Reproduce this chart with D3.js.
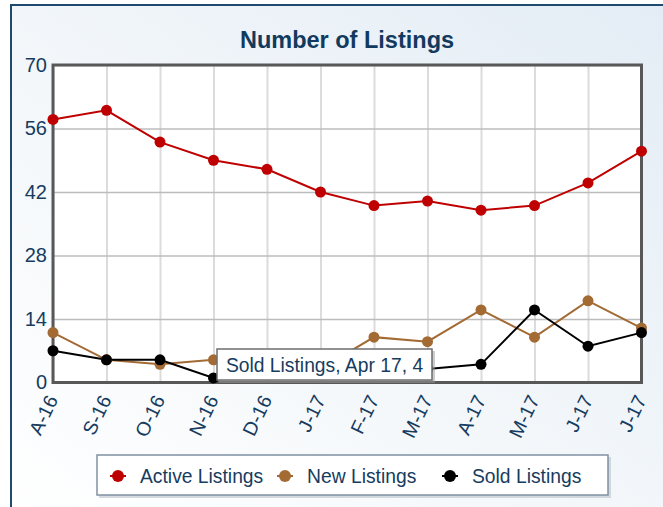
<!DOCTYPE html>
<html><head><meta charset="utf-8">
<script src="https://cdn.jsdelivr.net/npm/d3@7"></script>
<style>
html,body{margin:0;padding:0;background:#fff;}
svg{display:block;font-family:"Liberation Sans",Arial,sans-serif;}
</style></head>
<body><svg id="c" width="663" height="507"></svg>
<script>
const categories = ["A-16","S-16","O-16","N-16","D-16","J-17","F-17","M-17","A-17","M-17","J-17","J-17"];
const activeListings = [58,60,53,49,47,42,39,40,38,39,44,51];
const newListings = [11,5,4,5,4,3,10,9,16,10,18,12];
const soldListings = [7,5,5,1,3,2,2,3,4,16,8,11];
const yTicks = [0,14,28,42,56,70];
const seriesNames = ["Active Listings","New Listings","Sold Listings"];
const seriesColors = ["#bf0000","#a36a34","#000000"];
const tooltipText = "Sold Listings, Apr 17, 4";

(function(){
const svg = d3.select("#c");
const defs = svg.append("defs");
const g1 = defs.append("linearGradient").attr("id","bg").attr("x1","0").attr("y1","1").attr("x2","1").attr("y2","0");
g1.append("stop").attr("offset","0").attr("stop-color","#ffffff");
g1.append("stop").attr("offset","0.45").attr("stop-color","#f3f7fa");
g1.append("stop").attr("offset","1").attr("stop-color","#e3ecf5");

// panel
svg.append("rect").attr("x",0).attr("y",0).attr("width",663).attr("height",507).attr("fill","#ffffff");
svg.append("rect").attr("x",11).attr("y",5).attr("width",680).attr("height",520).attr("fill","url(#bg)")
  .attr("stroke","#1f4a70").attr("stroke-width",2);

const pL=53, pR=641.5, pT=65, pB=382.5;
const x = d3.scalePoint().domain(d3.range(categories.length)).range([pL,pR]).padding(0);
const y = d3.scaleLinear().domain([0,70]).range([pB,pT]);
const txt = "#163c60";

// title
svg.append("text").attr("x",347).attr("y",48).attr("text-anchor","middle")
  .attr("font-size",23.5).attr("font-weight","bold").attr("fill","#123a5e").text("Number of Listings");

// plot bg
svg.append("rect").attr("x",pL).attr("y",pT).attr("width",pR-pL).attr("height",pB-pT).attr("fill","#fff");

// vertical grid
svg.append("g").attr("transform",`translate(0,${pB})`)
  .call(d3.axisBottom(x).tickSize(-(pB-pT)).tickFormat(""))
  .call(g=>{g.select(".domain").remove(); g.selectAll("line").attr("stroke","#dcdcdc").attr("stroke-width",2);});
// horizontal grid
svg.append("g").attr("transform",`translate(${pL},0)`)
  .call(d3.axisLeft(y).tickValues(yTicks).tickSize(-(pR-pL)).tickFormat(""))
  .call(g=>{g.select(".domain").remove(); g.selectAll("line").attr("stroke","#bcbcbc").attr("stroke-width",1.5);});

// y labels
svg.append("g").attr("transform",`translate(${pL-4},0)`)
  .call(d3.axisLeft(y).tickValues(yTicks).tickSize(0).tickPadding(2))
  .call(g=>{g.select(".domain").remove(); g.selectAll("text").attr("font-size",20).attr("fill",txt).attr("font-family","Liberation Sans, Arial, sans-serif");});

// x labels
svg.append("g").attr("transform",`translate(0,${pB})`)
  .call(d3.axisBottom(x).tickSize(0).tickFormat(i=>categories[i]))
  .call(g=>{g.select(".domain").remove();
    g.selectAll("text").attr("font-size",19.5).attr("fill",txt).attr("font-family","Liberation Sans, Arial, sans-serif")
     .attr("text-anchor","end").attr("dy",0).attr("y",0)
     .attr("transform","translate(5,17) rotate(-64)");});

// plot border
svg.append("rect").attr("x",pL).attr("y",pT).attr("width",pR-pL).attr("height",pB-pT)
  .attr("fill","none").attr("stroke","#585858").attr("stroke-width",3);

const allSeries = [activeListings,newListings,soldListings];
const line = d3.line().x((d,i)=>x(i)).y(d=>y(d));
allSeries.forEach((s,k)=>{
  svg.append("path").datum(s).attr("d",line).attr("fill","none").attr("stroke",seriesColors[k]).attr("stroke-width",2);
});
allSeries.forEach((s,k)=>{
  svg.append("g").selectAll("circle").data(s).join("circle")
    .attr("cx",(d,i)=>x(i)).attr("cy",d=>y(d)).attr("r",5.5).attr("fill",seriesColors[k]);
});

// tooltip
const tt = svg.append("g");
tt.append("rect").attr("x",219).attr("y",351).attr("width",216).attr("height",32).attr("fill","#9a9a9a").attr("opacity",0.5);
tt.append("rect").attr("x",217).attr("y",349).attr("width",215).attr("height",31).attr("fill","#fff")
  .attr("stroke","#6d6d6d").attr("stroke-width",1.5);
tt.append("text").attr("x",324.5).attr("y",371.5).attr("text-anchor","middle").attr("font-size",19.3)
  .attr("fill",txt).text(tooltipText);

// legend
const lg = svg.append("g");
lg.append("rect").attr("x",99).attr("y",457).attr("width",512).attr("height",41).attr("fill","#b9c3cc").attr("opacity",0.6);
lg.append("rect").attr("x",97).attr("y",455).attr("width",511).attr("height",40).attr("fill","#fff")
  .attr("stroke","#7f90a2").attr("stroke-width",1.5);
const legX = [118,285,450];
seriesNames.forEach((n,k)=>{
  lg.append("line").attr("x1",legX[k]-8).attr("x2",legX[k]+8).attr("y1",476).attr("y2",476).attr("stroke",seriesColors[k]).attr("stroke-width",2);
  lg.append("circle").attr("cx",legX[k]).attr("cy",476).attr("r",6).attr("fill",seriesColors[k]);
  lg.append("text").attr("x",legX[k]+22).attr("y",483).attr("font-size",19.3).attr("fill",txt).text(n);
});
})();
</script></body></html>
